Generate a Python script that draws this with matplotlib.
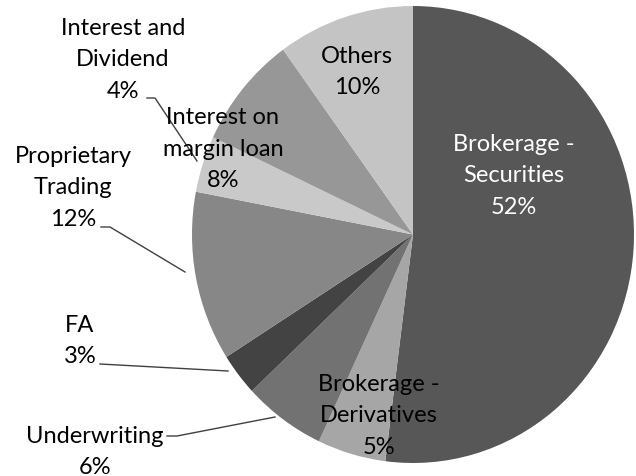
import matplotlib.pyplot as plt
from matplotlib.lines import Line2D

labels = ['Brokerage -\nSecurities', 'Brokerage -\nDerivatives', 'Underwriting', 'FA',
          'Proprietary\nTrading', 'Interest and\nDividend', 'Interest on\nmargin loan', 'Others']
shares = [52, 5, 6, 3, 12, 4, 8, 10]
colors = ['#575757', '#a6a6a6', '#727272', '#434343', '#878787', '#c9c9c9', '#979797', '#c4c4c4']

W, H = 636, 477
fig = plt.figure(figsize=(W / 100, H / 100), dpi=100)

# pie box in pixels (centre and radii)
cx, cy, rx, ry = 413, 235.5, 221, 228.5
ax = fig.add_axes([(cx - rx) / W, (H - cy - ry) / H, 2 * rx / W, 2 * ry / H])
ax.pie(shares, colors=colors, startangle=90, counterclock=False, radius=1,
       wedgeprops=dict(linewidth=0))
ax.set_xlim(-1, 1)
ax.set_ylim(-1, 1)
ax.set_aspect('auto')
ax.axis('off')

plt.rcParams['font.family'] = ['Lato', 'DejaVu Sans']


def px(x, y):
    return x / W, 1 - y / H


# label text positions (pixel centres)
label_pos = [(514, 176), (379, 416), (95, 452), (80, 341),
             (73, 188), (123, 60), (223, 149), (357, 72)]
text_colors = ['white', 'black', 'black', 'black', 'black', 'black', 'black', 'black']

for lab, s, pos, tc in zip(labels, shares, label_pos, text_colors):
    txt = lab + '\n%d%%' % s
    fig.text(*px(*pos), txt, ha='center', va='center', fontsize=17, color=tc,
             linespacing=1.62)

# leader lines
leaders = [
    [(147, 99), (155, 99), (197, 162)],
    [(101, 228), (110, 228), (185, 273)],
    [(100, 365), (228, 372)],
    [(167, 437), (177, 437), (275, 418)],
]
for pts in leaders:
    xs = [px(*p)[0] for p in pts]
    ys = [px(*p)[1] for p in pts]
    fig.add_artist(Line2D(xs, ys, color='#404040', linewidth=1))

plt.savefig('out.png', dpi=100)
